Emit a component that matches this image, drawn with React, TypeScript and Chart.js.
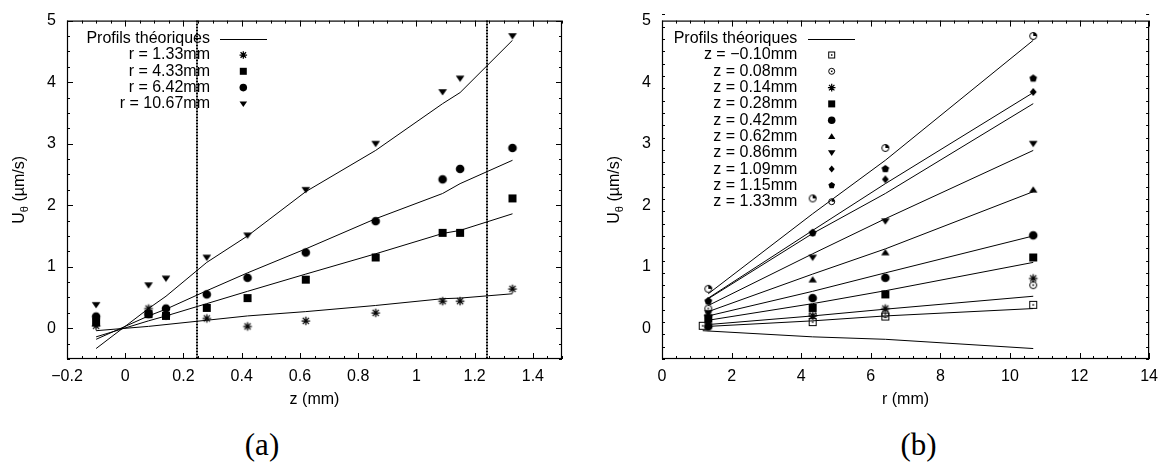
import React, { useEffect, useRef } from 'react';
import { Chart, registerables } from 'chart.js';

Chart.register(...registerables);

// ---------- data ----------
const zValues = [-0.1, 0.08, 0.14, 0.28, 0.42, 0.62, 0.86, 1.09, 1.15, 1.33];
const rValues = [1.33, 4.33, 6.42, 10.67];
const rValuesFirstZ = [1.17, 4.33, 6.42, 10.67]; // r positions used for z = -0.10 in (b)

// measured U_theta (µm/s) at each z, one array per radius
const measR133 = [0.04, 0.32, 0.21, 0.16, 0.03, 0.12, 0.25, 0.44, 0.44, 0.64];
const measR433 = [0.1, 0.23, 0.2, 0.33, 0.49, 0.79, 1.15, 1.55, 1.55, 2.11];
const measR642 = [0.19, 0.23, 0.32, 0.55, 0.82, 1.23, 1.74, 2.42, 2.59, 2.93];
const measR1067 = [0.38, 0.7, 0.81, 1.15, 1.51, 2.25, 3.0, 3.84, 4.06, 4.75];

// theoretical profiles at each z, one array per radius
const theoR133 = [-0.04, 0.03, 0.06, 0.13, 0.2, 0.27, 0.37, 0.48, 0.49, 0.56];
const theoR433 = [-0.14, 0.12, 0.2, 0.4, 0.6, 0.88, 1.21, 1.54, 1.59, 1.86];
const theoR642 = [-0.18, 0.2, 0.31, 0.61, 0.9, 1.29, 1.78, 2.19, 2.35, 2.73];
const theoR1067 = [-0.33, 0.32, 0.52, 1.07, 1.5, 2.22, 2.89, 3.65, 3.83, 4.68];

const verticalMarksZ = [0.248, 1.243];

const theoryLabel = 'Profils théoriques';
const rLabels = ['r = 1.33mm', 'r = 4.33mm', 'r = 6.42mm', 'r = 10.67mm'];
const zLabels = [
  'z = −0.10mm', 'z = 0.08mm', 'z = 0.14mm', 'z = 0.28mm', 'z = 0.42mm',
  'z = 0.62mm', 'z = 0.86mm', 'z = 1.09mm', 'z = 1.15mm', 'z = 1.33mm',
];

const xTicksA = [-0.2, 0, 0.2, 0.4, 0.6, 0.8, 1, 1.2, 1.4];
const xTicksB = [0, 2, 4, 6, 8, 10, 12, 14];
const yTicks = [0, 1, 2, 3, 4, 5];

const markersA = ['asterisk', 'box', 'circle', 'tridown'];
const markersB = ['openboxdot', 'opencircledot', 'asterisk', 'box', 'circle', 'triup', 'tridown', 'diamond', 'pentagon', 'quarter'];

const FONT = '"Liberation Sans", Arial, Helvetica, sans-serif';

// ---------- marker drawing ----------
function drawMarker(ctx: CanvasRenderingContext2D, type: string, cx: number, cy: number, s: number) {
  const h = s / 2;
  ctx.save();
  ctx.fillStyle = '#000';
  ctx.strokeStyle = '#000';
  ctx.lineWidth = 1;
  ctx.beginPath();
  switch (type) {
    case 'asterisk': {
      const a = h * 1.08;
      const d = a * 0.72;
      ctx.lineWidth = 1.25;
      ctx.moveTo(cx - a, cy); ctx.lineTo(cx + a, cy);
      ctx.moveTo(cx, cy - a); ctx.lineTo(cx, cy + a);
      ctx.moveTo(cx - d, cy - d); ctx.lineTo(cx + d, cy + d);
      ctx.moveTo(cx - d, cy + d); ctx.lineTo(cx + d, cy - d);
      ctx.stroke();
      break;
    }
    case 'box':
      ctx.fillRect(cx - h, cy - h, s, s);
      break;
    case 'circle':
      ctx.arc(cx, cy, h * 1.08, 0, Math.PI * 2);
      ctx.fill();
      break;
    case 'tridown':
      ctx.moveTo(cx - h * 1.08, cy - h * 0.7);
      ctx.lineTo(cx + h * 1.08, cy - h * 0.7);
      ctx.lineTo(cx, cy + h * 0.9);
      ctx.closePath();
      ctx.fill();
      break;
    case 'triup':
      ctx.moveTo(cx - h * 1.05, cy + h * 0.7);
      ctx.lineTo(cx + h * 1.05, cy + h * 0.7);
      ctx.lineTo(cx, cy - h * 0.9);
      ctx.closePath();
      ctx.fill();
      break;
    case 'diamond':
      ctx.moveTo(cx, cy - h);
      ctx.lineTo(cx + h * 0.85, cy);
      ctx.lineTo(cx, cy + h);
      ctx.lineTo(cx - h * 0.85, cy);
      ctx.closePath();
      ctx.fill();
      break;
    case 'pentagon':
      for (let k = 0; k < 5; k++) {
        const a = -Math.PI / 2 + (k * 2 * Math.PI) / 5;
        const px = cx + h * Math.cos(a);
        const py = cy + h * Math.sin(a);
        if (k === 0) ctx.moveTo(px, py); else ctx.lineTo(px, py);
      }
      ctx.closePath();
      ctx.fill();
      break;
    case 'openboxdot':
      ctx.strokeRect(cx - h + 0.5, cy - h + 0.5, s - 1, s - 1);
      ctx.fillRect(cx - 0.75, cy - 0.75, 1.5, 1.5);
      break;
    case 'opencircledot':
      ctx.arc(cx, cy, h - 0.5, 0, Math.PI * 2);
      ctx.stroke();
      ctx.fillRect(cx - 0.75, cy - 0.75, 1.5, 1.5);
      break;
    case 'quarter':
      ctx.arc(cx, cy, h - 0.5, 0, Math.PI * 2);
      ctx.stroke();
      ctx.beginPath();
      ctx.moveTo(cx, cy);
      ctx.arc(cx, cy, h - 0.5, -Math.PI / 2, 0);
      ctx.closePath();
      ctx.fill();
      break;
  }
  ctx.restore();
}

function makeMarkerCanvas(type: string, s: number): HTMLCanvasElement {
  const c = document.createElement('canvas');
  const size = 14;
  c.width = size;
  c.height = size;
  const ctx = c.getContext('2d')!;
  drawMarker(ctx, type, size / 2, size / 2, s);
  return c;
}

function fmt(v: number): string {
  const s = String(Math.round(v * 100) / 100);
  return s.replace('-', '−');
}

// ---------- decoration plugin ----------
function decorPlugin(opts: {
  xMinor: number; yMinor: number; xTitle: string; yTitleX: number;
  legendRight: number; legendMarkerX: number; legendLine: [number, number];
  labels: string[]; markers: string[]; vlines: number[];
}) {
  return {
    id: 'decor',
    afterDraw(chart: any) {
      const ctx: CanvasRenderingContext2D = chart.ctx;
      const { left, right, top, bottom } = chart.chartArea;
      const xs = chart.scales.x;
      const ys = chart.scales.y;
      ctx.save();
      ctx.strokeStyle = '#000';
      ctx.fillStyle = '#000';
      ctx.lineWidth = 1;

      // vertical dotted lines
      ctx.save();
      ctx.setLineDash([2, 1]);
      ctx.lineWidth = 2;
      for (const v of opts.vlines) {
        const px = Math.round(xs.getPixelForValue(v));
        ctx.beginPath();
        ctx.moveTo(px, top);
        ctx.lineTo(px, bottom);
        ctx.stroke();
      }
      ctx.restore();

      // ticks (inward, mirrored)
      const major = 6, minor = 3;
      ctx.beginPath();
      const xmin = xs.min, xmax = xs.max, ymin = ys.min, ymax = ys.max;
      const nx = Math.round((xmax - xmin) / opts.xMinor);
      for (let k = 0; k <= nx; k++) {
        const v = xmin + k * opts.xMinor;
        const isMajor = xs.ticks.some((t: any) => Math.abs(t.value - v) < 1e-6);
        const L = isMajor ? major : minor;
        const px = Math.round(xs.getPixelForValue(v)) + 0.5;
        ctx.moveTo(px, bottom); ctx.lineTo(px, bottom - L);
        ctx.moveTo(px, top); ctx.lineTo(px, top + L);
      }
      const ny = Math.round((ymax - ymin) / opts.yMinor);
      for (let k = 0; k <= ny; k++) {
        const v = ymin + k * opts.yMinor;
        const isMajor = ys.ticks.some((t: any) => Math.abs(t.value - v) < 1e-6);
        const L = isMajor ? major : minor;
        const py = Math.round(ys.getPixelForValue(v)) + 0.5;
        ctx.moveTo(left, py); ctx.lineTo(left + L, py);
        ctx.moveTo(right, py); ctx.lineTo(right - L, py);
      }
      ctx.stroke();

      // frame
      ctx.lineWidth = 1.2;
      ctx.strokeRect(left + 0.5, top + 0.5, right - left - 1, bottom - top - 1);
      ctx.lineWidth = 1;

      // legend
      ctx.font = '16px ' + FONT;
      ctx.textAlign = 'right';
      ctx.textBaseline = 'middle';
      const row0 = 38.7, dy = 16.3;
      ctx.fillText(theoryLabel, opts.legendRight, row0);
      ctx.beginPath();
      ctx.moveTo(opts.legendLine[0], Math.round(row0) + 0.5);
      ctx.lineTo(opts.legendLine[1], Math.round(row0) + 0.5);
      ctx.stroke();
      opts.labels.forEach((lab, i) => {
        const y = row0 + dy * (i + 1);
        ctx.fillText(lab, opts.legendRight, y);
        drawMarker(ctx, opts.markers[i], opts.legendMarkerX, y, 7);
      });

      // x title
      ctx.textAlign = 'center';
      ctx.fillText(opts.xTitle, (left + right) / 2, 400);

      // y title with subscript theta
      ctx.save();
      ctx.translate(opts.yTitleX, (top + bottom) / 2);
      ctx.rotate(-Math.PI / 2);
      ctx.textAlign = 'left';
      ctx.textBaseline = 'alphabetic';
      const big = '16px ' + FONT;
      const small = '11px ' + FONT;
      ctx.font = big;
      const wU = ctx.measureText('U').width;
      const wRest = ctx.measureText(' (µm/s)').width;
      ctx.font = small;
      const wT = ctx.measureText('θ').width;
      let x0 = -(wU + wT + wRest) / 2;
      ctx.font = big;
      ctx.fillText('U', x0, 0);
      x0 += wU;
      ctx.font = small;
      ctx.fillText('θ', x0, 4);
      x0 += wT;
      ctx.font = big;
      ctx.fillText(' (µm/s)', x0, 0);
      ctx.restore();

      ctx.restore();
    },
  };
}

function baseOptions(xMin: number, xMax: number, xTicks: number[], yWidth: number, padRight: number) {
  const tickFont = { family: FONT, size: 16 };
  return {
    animation: false,
    responsive: false,
    maintainAspectRatio: false,
    events: [],
    layout: { padding: { left: 0, right: padRight, top: 20, bottom: 0 } },
    plugins: { legend: { display: false }, tooltip: { enabled: false }, title: { display: false } },
    scales: {
      x: {
        type: 'linear',
        min: xMin,
        max: xMax,
        afterBuildTicks: (s: any) => { s.ticks = xTicks.map((v) => ({ value: v })); },
        afterFit: (s: any) => { s.height = 61; },
        grid: { display: false, drawTicks: false },
        border: { display: false },
        ticks: { padding: 8, color: '#000', font: tickFont, maxRotation: 0, autoSkip: false, callback: (v: number) => fmt(v) },
      },
      y: {
        type: 'linear',
        min: -0.5,
        max: 5,
        afterBuildTicks: (s: any) => { s.ticks = yTicks.map((v) => ({ value: v })); },
        afterFit: (s: any) => { s.width = yWidth; },
        grid: { display: false, drawTicks: false },
        border: { display: false },
        ticks: { padding: 11, color: '#000', font: tickFont, autoSkip: false, callback: (v: number) => fmt(v) },
      },
    },
  };
}

export default function App() {
  const refA = useRef<HTMLCanvasElement>(null);
  const refB = useRef<HTMLCanvasElement>(null);

  useEffect(() => {
    const measByR = [measR133, measR433, measR642, measR1067];
    const theoByR = [theoR133, theoR433, theoR642, theoR1067];

    // ----- chart (a): U vs z, one series per radius -----
    const dsA: any[] = [];
    theoByR.forEach((theo) => {
      dsA.push({
        data: zValues.map((z, j) => ({ x: z, y: theo[j] })),
        showLine: true, borderColor: '#000', borderWidth: 1, pointRadius: 0, fill: false,
      });
    });
    measByR.forEach((meas, i) => {
      dsA.push({
        data: zValues.map((z, j) => ({ x: z, y: meas[j] })),
        showLine: false, pointStyle: makeMarkerCanvas(markersA[i], 8), pointRadius: 5,
        borderColor: '#000', backgroundColor: '#000',
      });
    });

    // ----- chart (b): U vs r, one series per z -----
    const dsB: any[] = [];
    zValues.forEach((_, j) => {
      const rs = j === 0 ? rValuesFirstZ : rValues;
      dsB.push({
        data: rs.map((r, i) => ({ x: r, y: theoByR[i][j] })),
        showLine: true, borderColor: '#000', borderWidth: 1, pointRadius: 0, fill: false,
      });
    });
    zValues.forEach((_, j) => {
      const rs = j === 0 ? rValuesFirstZ : rValues;
      dsB.push({
        data: rs.map((r, i) => ({ x: r, y: measByR[i][j] })),
        showLine: false, pointStyle: makeMarkerCanvas(markersB[j], 8), pointRadius: 5,
        borderColor: '#000', backgroundColor: '#000',
      });
    });

    const chartA = new Chart(refA.current!, {
      type: 'scatter',
      data: { datasets: dsA },
      options: baseOptions(-0.2, 1.5, xTicksA, 67, 21) as any,
      plugins: [decorPlugin({
        xMinor: 0.05, yMinor: 0.25, xTitle: 'z (mm)', yTitleX: 24,
        legendRight: 210, legendMarkerX: 243.3, legendLine: [220, 267],
        labels: rLabels, markers: markersA, vlines: verticalMarksZ,
      })],
    });

    const chartB = new Chart(refB.current!, {
      type: 'scatter',
      data: { datasets: dsB },
      options: baseOptions(0, 14, xTicksB, 79, 13) as any,
      plugins: [decorPlugin({
        xMinor: 0.4, yMinor: 0.2, xTitle: 'r (mm)', yTitleX: 36,
        legendRight: 214.3, legendMarkerX: 248.7, legendLine: [225, 272],
        labels: zLabels, markers: markersB, vlines: [],
      })],
    });

    return () => {
      chartA.destroy();
      chartB.destroy();
    };
  }, []);

  const labelStyle: React.CSSProperties = {
    position: 'absolute',
    top: 429,
    width: 80,
    textAlign: 'center',
    fontFamily: '"Liberation Serif", "Times New Roman", serif',
    fontSize: 31,
    lineHeight: '31px',
    color: '#000',
  };

  return (
    <div style={{ position: 'absolute', left: 0, top: 0, width: 1166, height: 464, background: '#fff', overflow: 'hidden' }}>
      <canvas ref={refA} width={583} height={420} style={{ position: 'absolute', left: 0, top: 0 }} />
      <canvas ref={refB} width={583} height={420} style={{ position: 'absolute', left: 583, top: 0 }} />
      <div style={{ ...labelStyle, left: 262 - 40 }}>(a)</div>
      <div style={{ ...labelStyle, left: 918.5 - 40 }}>(b)</div>
    </div>
  );
}
